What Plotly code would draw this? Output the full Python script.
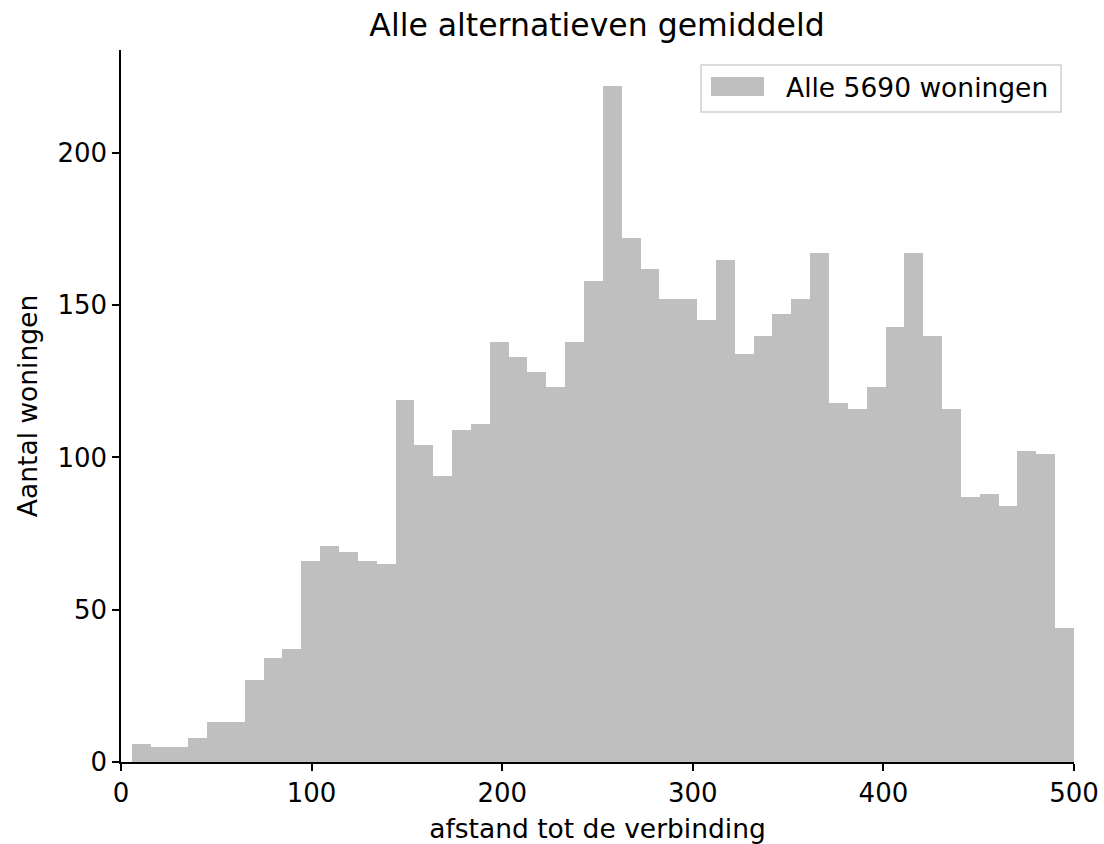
import plotly.graph_objects as go

# ---- data ----
counts = [6, 5, 5, 8, 13, 13, 27, 34, 37, 66,
          71, 69, 66, 65, 119, 104, 94, 109, 111, 138,
          133, 128, 123, 138, 158, 222, 172, 162, 152, 152,
          145, 165, 134, 140, 147, 152, 167, 118, 116, 123,
          143, 167, 140, 116, 87, 88, 84, 102, 101, 44]
bin_start = 5.6
bin_end = 500.0
x_ticks = [0, 100, 200, 300, 400, 500]
y_ticks = [0, 50, 100, 150, 200]
legend_label = "Alle 5690 woningen"
title_text = "Alle alternatieven gemiddeld"
x_title = "afstand tot de verbinding"
y_title = "Aantal woningen"

n_bins = len(counts)
bw = (bin_end - bin_start) / n_bins
lefts = [bin_start + i * bw for i in range(n_bins)]

FONT = "DejaVu Sans"
BAR = "#bfbfbf"

fig = go.Figure()
fig.add_trace(go.Bar(
    x=lefts, y=counts, width=[bw] * n_bins, offset=0,
    marker=dict(color=BAR, line=dict(width=0)),
    name=legend_label, showlegend=False,
))

W, H = 1104, 844
L, R, T, B = 121, 30, 50, 82
pw, ph = W - L - R, H - T - B


def px(x):
    return (x - L) / pw


def py(y):
    return 1 - (y - T) / ph


shapes = [
    # legend frame
    dict(type="rect", xref="paper", yref="paper",
         x0=px(701), x1=px(1061), y0=py(112), y1=py(65),
         line=dict(color="#d0d0d0", width=1.5), fillcolor="rgba(255,255,255,0.8)", layer="above"),
    # legend patch
    dict(type="rect", xref="paper", yref="paper",
         x0=px(711), x1=px(764), y0=py(96), y1=py(77),
         line=dict(width=0), fillcolor=BAR, layer="above"),
]
annotations = [
    dict(text=legend_label, xref="paper", yref="paper", x=px(784), y=py(87),
         xanchor="left", yanchor="middle", showarrow=False,
         font=dict(family=FONT, size=26.5, color="black")),
]

fig.update_layout(
    width=W, height=H,
    margin=dict(l=L, r=R, t=T, b=B, autoexpand=False),
    paper_bgcolor="white", plot_bgcolor="white",
    bargap=0,
    font=dict(family=FONT, size=26, color="black"),
    title=dict(text=title_text, x=px(597), xref="paper", xanchor="center",
               y=1 - 25 / H, yref="container", yanchor="middle", automargin=False,
               font=dict(family=FONT, size=31.5, color="black")),
    shapes=shapes, annotations=annotations,
    showlegend=False,
)
fig.update_xaxes(
    range=[0, 500], tickvals=x_ticks, ticks="outside", ticklen=7, tickwidth=1.5,
    tickcolor="black", showline=True, linecolor="black", linewidth=1.5,
    showgrid=False, zeroline=False, automargin=False,
    tickfont=dict(family=FONT, size=26, color="black"),
    title=dict(text=x_title, font=dict(family=FONT, size=26.5, color="black"), standoff=12),
)
fig.update_yaxes(
    range=[0, 233.8], tickvals=y_ticks, ticks="outside", ticklen=7, tickwidth=1.5,
    tickcolor="black", showline=True, linecolor="black", linewidth=1.5,
    showgrid=False, zeroline=False, automargin=False,
    tickfont=dict(family=FONT, size=26, color="black"),
    title=dict(text=y_title, font=dict(family=FONT, size=26.5, color="black"), standoff=12),
)

fig.write_html("out.html")
